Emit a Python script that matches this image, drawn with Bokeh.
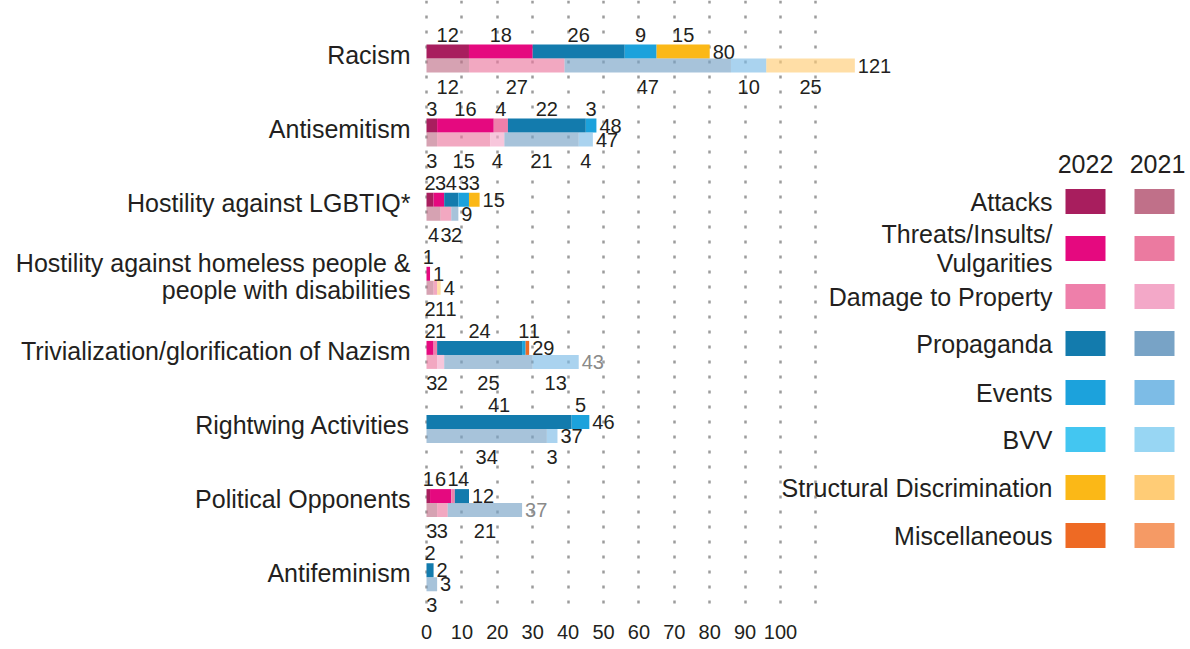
import numpy as np
from bokeh.plotting import figure
from bokeh.models import Range1d, FixedTicker
from bokeh.core.properties import value
from bokeh.embed import file_html
from bokeh.resources import INLINE

# ---------------- data ----------------
categories = ["Racism", "Antisemitism", "Hostility against LGBTIQ*",
              "Hostility against homeless people &\npeople with disabilities",
              "Trivialization/glorification of Nazism", "Rightwing Activities",
              "Political Opponents", "Antifeminism"]
types = ["Attacks", "Threats/Insults/\nVulgarities", "Damage to Property", "Propaganda",
         "Events", "BVV", "Structural Discrimination", "Miscellaneous"]
years = ["2022", "2021"]

attacks_2022 = [12, 3, 2, 0, 0, 0, 1, 0]
threats_2022 = [18, 16, 3, 1, 2, 0, 6, 0]
damage_2022 = [0, 4, 0, 0, 1, 0, 1, 0]
propaganda_2022 = [26, 22, 4, 0, 24, 41, 4, 2]
events_2022 = [9, 3, 3, 0, 1, 5, 0, 0]
bvv_2022 = [0, 0, 0, 0, 0, 0, 0, 0]
structural_2022 = [15, 0, 3, 0, 0, 0, 0, 0]
misc_2022 = [0, 0, 0, 0, 1, 0, 0, 0]

attacks_2021 = [12, 3, 4, 2, 0, 0, 3, 0]
threats_2021 = [27, 15, 3, 1, 3, 0, 3, 0]
damage_2021 = [0, 4, 0, 0, 2, 0, 0, 0]
propaganda_2021 = [47, 21, 2, 0, 25, 34, 21, 3]
events_2021 = [10, 4, 0, 0, 13, 3, 0, 0]
bvv_2021 = [0, 0, 0, 0, 0, 0, 0, 0]
structural_2021 = [25, 0, 0, 1, 0, 0, 0, 0]
misc_2021 = [0, 0, 0, 0, 0, 0, 0, 0]

total_labels_2022 = ["80", "48", "15", "1", "29", "46", "12", "2"]
total_labels_2021 = ["121", "47", "9", "4", "43", "37", "37", "3"]
total_muted_2021 = [False, False, False, False, True, False, True, False]

x_ticks = [0, 10, 20, 30, 40, 50, 60, 70, 80, 90, 100]
grid_ticks = [0, 10, 20, 30, 40, 50, 60, 70, 80, 90, 100, 110]

colors_2022 = ["#a81e5e", "#e5097f", "#ee7faa", "#137bad", "#1ca2dc", "#43c6f1", "#fbb817", "#ee6a24"]
colors_2021 = ["#c07089", "#eb7aa0", "#f3a8c8", "#78a3c6", "#7dbce6", "#98d6f3", "#ffcc76", "#f59a65"]

# ---------------- layout ----------------
FONT = value("Liberation Sans")
TXT = "#231f20"
ORIGIN = 0               # page px of the canvas origin
FW, FH = 1188, 612
X0_PAGE = 426.0          # page px of value 0
PXU = 3.54               # px per unit
ROW0_PAGE = 58.0
ROW_PX = 74.1
BAR_PX = 14.0

x_start = -(X0_PAGE - ORIGIN) / PXU
x_end = x_start + FW / PXU
y_top = -(ROW0_PAGE - ORIGIN) / ROW_PX
y_bot = y_top + FH / ROW_PX

def px2x(px):
    return (px - X0_PAGE) / PXU

def py2y(py):
    return (py - ROW0_PAGE) / ROW_PX

p = figure(frame_width=FW, frame_height=FH, output_backend="svg", toolbar_location=None,
           x_range=Range1d(x_start, x_end), y_range=Range1d(y_bot, y_top),
           y_axis_location=None, min_border=0, outline_line_color=None,
           background_fill_color="white", border_fill_color="white")

p.xaxis.ticker = FixedTicker(ticks=x_ticks)
p.xaxis.axis_line_color = None
p.xaxis.major_tick_line_color = None
p.xaxis.minor_tick_line_color = None
p.xaxis.major_tick_out = 0
p.xaxis.major_tick_in = 0
p.xaxis.major_label_standoff = 12
p.xaxis.major_label_text_font = "Liberation Sans"
p.xaxis.major_label_text_font_size = "20px"
p.xaxis.major_label_text_color = TXT

p.ygrid.visible = False
p.xgrid.ticker = FixedTicker(ticks=grid_ticks)
p.xgrid.grid_line_color = "#9c9c9c"
p.xgrid.grid_line_width = 2.5
p.xgrid.grid_line_dash = "3 12"

rows = np.arange(len(categories), dtype=float)
h = BAR_PX / ROW_PX

vals = {
    "2022": np.array([attacks_2022, threats_2022, damage_2022, propaganda_2022,
                      events_2022, bvv_2022, structural_2022, misc_2022], dtype=float),
    "2021": np.array([attacks_2021, threats_2021, damage_2021, propaganda_2021,
                      events_2021, bvv_2021, structural_2021, misc_2021], dtype=float),
}

def place(centers, texts, wpx=10.5):
    out = []
    prev_right = -1e9
    for c, t in zip(centers, texts):
        w = len(t) * wpx / PXU
        left = max(c - w / 2, prev_right)
        out.append(left + w / 2)
        prev_right = left + w
    return out

for yr, cols, alpha, dy in [("2022", colors_2022, 1.0, -h / 2), ("2021", colors_2021, 0.65, h / 2)]:
    v = vals[yr]
    right = np.cumsum(v, axis=0)
    left = right - v
    for t in range(len(types)):
        mask = v[t] > 0
        if mask.any():
            p.hbar(y=rows[mask] + dy, left=left[t][mask], right=right[t][mask], height=h,
                   fill_color=cols[t], fill_alpha=alpha, line_color=None)
    # segment labels
    lab_x, lab_y, lab_t = [], [], []
    for c in range(len(categories)):
        centers, texts = [], []
        for t in range(len(types)):
            if v[t, c] > 0:
                centers.append((left[t, c] + right[t, c]) / 2)
                texts.append(str(int(v[t, c])))
        xs = place(centers, texts)
        if yr == "2022":
            yy = rows[c] - (BAR_PX + 10) / ROW_PX
        else:
            yy = rows[c] + (BAR_PX + 14) / ROW_PX
        lab_x += xs
        lab_y += [yy] * len(xs)
        lab_t += texts
    p.text(x=lab_x, y=lab_y, text=lab_t, text_font=FONT, text_font_size=value("20px"),
           text_color=TXT, text_align="center", text_baseline="middle")
    # totals
    tot = right[-1]
    if yr == "2022":
        tl = total_labels_2022
        tc = [TXT] * len(tl)
    else:
        tl = total_labels_2021
        tc = ["#8a8a8a" if m else TXT for m in total_muted_2021]
    p.text(x=list(tot), y=list(rows + dy), text=tl, x_offset=3, text_font=FONT,
           text_font_size=value("20px"), text_color=tc, text_align="left", text_baseline="middle")

# category labels
cx, cy, ct = [], [], []
LINE_PX = 27
for i, name in enumerate(categories):
    lines = name.split("\n")
    n = len(lines)
    for k, ln in enumerate(lines):
        off = (k - (n - 1) / 2) * LINE_PX - 4
        cx.append(0)
        cy.append(rows[i] + off / ROW_PX)
        ct.append(ln)
p.text(x=cx, y=cy, text=ct, x_offset=-16, text_font=FONT, text_font_size=value("25px"),
       text_color=TXT, text_align="right", text_baseline="middle")

# legend
leg_y_page = [201, 248, 296, 343, 392, 439, 487, 535]
p.text(x=[px2x(1085), px2x(1157)], y=[py2y(163)] * 2, text=years, text_font=FONT,
       text_font_size=value("25px"), text_color=TXT, text_align="center", text_baseline="middle")
p.rect(x=[px2x(1085)] * len(types), y=[py2y(v) for v in leg_y_page], width=40, height=25,
       width_units="screen", height_units="screen", fill_color=colors_2022, line_color=None)
p.rect(x=[px2x(1154)] * len(types), y=[py2y(v) for v in leg_y_page], width=40, height=25,
       width_units="screen", height_units="screen", fill_color=colors_2021, line_color=None)
lx, ly, lt = [], [], []
for name, yp in zip(types, leg_y_page):
    lines = name.split("\n")
    n = len(lines)
    for k, ln in enumerate(lines):
        off = (k - (n - 1) / 2) * 29
        lx.append(px2x(1052))
        ly.append(py2y(yp + off))
        lt.append(ln)
p.text(x=lx, y=ly, text=lt, text_font=FONT, text_font_size=value("25px"), text_color=TXT,
       text_align="right", text_baseline="middle")

open("out.html", "w").write(file_html(p, INLINE))
